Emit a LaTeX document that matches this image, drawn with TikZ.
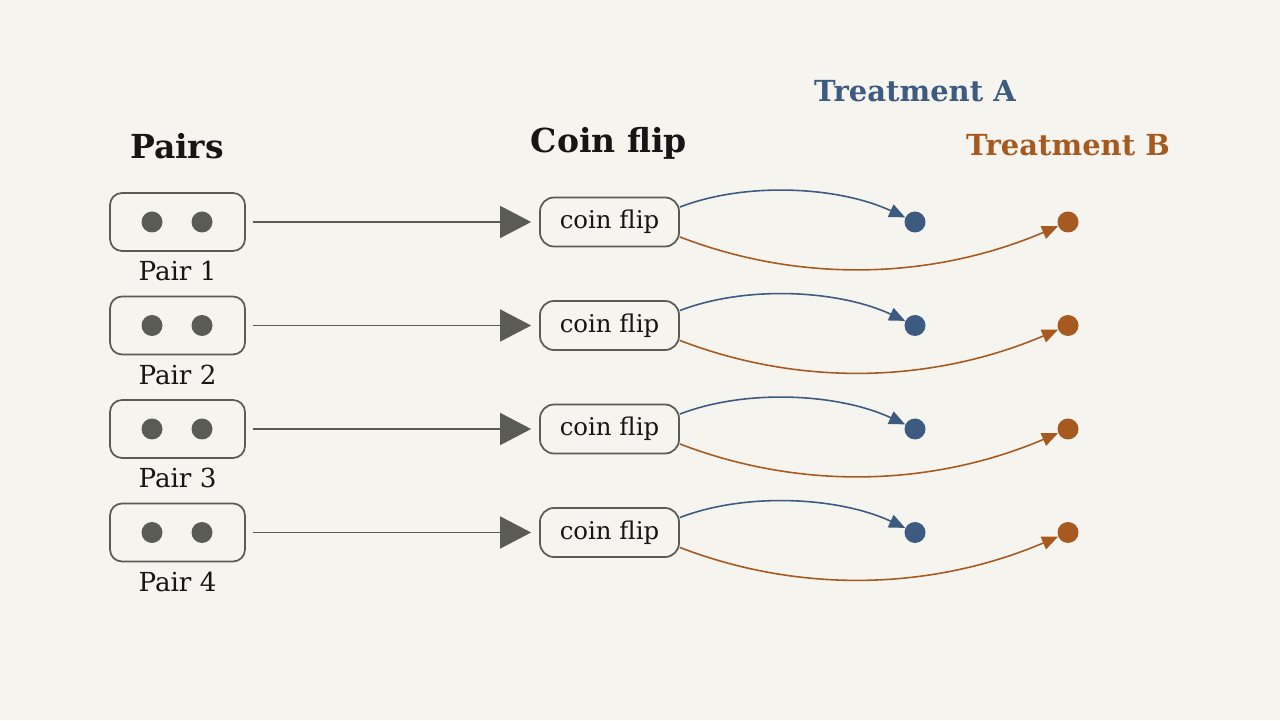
\documentclass[tikz,border=0pt]{standalone}
\usepackage{fontspec}
\setmainfont{DejaVu Serif}
\usetikzlibrary{arrows.meta}

\definecolor{paper}{HTML}{F5F4EE}
\definecolor{ink}{HTML}{161616}
\definecolor{slate}{HTML}{5B5B55}
\definecolor{treatA}{HTML}{3D5A80}
\definecolor{treatB}{HTML}{A65A20}

\tikzset{
  pairbox/.style={draw=slate, line width=1pt, rounded corners=0.24cm, minimum width=2.7cm, minimum height=1.16cm},
  flipbox/.style={draw=slate, line width=1pt, fill=paper, rounded corners=0.28cm, minimum width=2.78cm, minimum height=0.98cm, font=\fontsize{13.9}{16}\selectfont, text=ink},
  unit/.style={circle, fill=slate, inner sep=0pt, minimum size=0.42cm},
  dotA/.style={circle, fill=treatA, inner sep=0pt, minimum size=0.42cm},
  dotB/.style={circle, fill=treatB, inner sep=0pt, minimum size=0.42cm},
  pairlabel/.style={font=\fontsize{14.9}{17}\selectfont, text=ink},
  heading/.style={font=\bfseries\fontsize{18.8}{22}\selectfont, text=ink},
  armhead/.style={font=\bfseries\fontsize{16.5}{20}\selectfont},
  feed/.style={draw=slate, line width=0.9pt, -{Triangle[length=0.62cm, width=0.64cm]}, shorten <=0.14cm, shorten >=0.16cm},
  toA/.style={draw=treatA, line width=0.9pt, looseness=0.82, -{Triangle[length=0.32cm, width=0.27cm]}},
  toB/.style={draw=treatB, line width=0.9pt, looseness=0.9, -{Triangle[length=0.32cm, width=0.27cm]}}
}

\begin{document}
\begin{tikzpicture}
  \fill[paper] (0,0) rectangle (25.6,14.4);

  % Headings
  \node[heading] (hpairs) at (3.54, 11.48) {Pairs};
  \node[heading] (hflip) at (12.18, 11.54) {Coin flip};
  \node[armhead, text=treatA] (hA) at (18.3, 12.58) {Treatment A};
  \node[armhead, text=treatB] (hB) at (21.36, 11.5) {Treatment B};

  % Pairs
  \node[pairbox] (p1) at (3.55, 9.96) {};
  \node[pairbox] (p2) at (3.55, 7.89) {};
  \node[pairbox] (p3) at (3.55, 5.82) {};
  \node[pairbox] (p4) at (3.55, 3.75) {};
  \node[unit] (u1a) at (3.04, 9.96) {};
  \node[unit] (u1b) at (4.04, 9.96) {};
  \node[unit] (u2a) at (3.04, 7.89) {};
  \node[unit] (u2b) at (4.04, 7.89) {};
  \node[unit] (u3a) at (3.04, 5.82) {};
  \node[unit] (u3b) at (4.04, 5.82) {};
  \node[unit] (u4a) at (3.04, 3.75) {};
  \node[unit] (u4b) at (4.04, 3.75) {};
  \node[pairlabel] (l1) at (3.55, 8.98) {Pair 1};
  \node[pairlabel] (l2) at (3.55, 6.91) {Pair 2};
  \node[pairlabel] (l3) at (3.55, 4.84) {Pair 3};
  \node[pairlabel] (l4) at (3.55, 2.77) {Pair 4};

  % Coin flips
  \node[flipbox] (c1) at (12.19, 9.96) {coin flip};
  \node[flipbox] (c2) at (12.19, 7.89) {coin flip};
  \node[flipbox] (c3) at (12.19, 5.82) {coin flip};
  \node[flipbox] (c4) at (12.19, 3.75) {coin flip};

  % Treatments
  \node[dotA] (a1) at (18.3, 9.96) {};
  \node[dotA] (a2) at (18.3, 7.89) {};
  \node[dotA] (a3) at (18.3, 5.82) {};
  \node[dotA] (a4) at (18.3, 3.75) {};
  \node[dotB] (b1) at (21.36, 9.96) {};
  \node[dotB] (b2) at (21.36, 7.89) {};
  \node[dotB] (b3) at (21.36, 5.82) {};
  \node[dotB] (b4) at (21.36, 3.75) {};

  % Arrows
  \draw[feed] (p1) -- (c1);
  \draw[feed] (p2) -- (c2);
  \draw[feed] (p3) -- (c3);
  \draw[feed] (p4) -- (c4);

  \draw[toA] (c1.12) to[out=21, in=155] (a1);
  \draw[toA] (c2.12) to[out=21, in=155] (a2);
  \draw[toA] (c3.12) to[out=21, in=155] (a3);
  \draw[toA] (c4.12) to[out=21, in=155] (a4);

  \draw[toB] (c1.-12) to[out=-21, in=203] (b1);
  \draw[toB] (c2.-12) to[out=-21, in=203] (b2);
  \draw[toB] (c3.-12) to[out=-21, in=203] (b3);
  \draw[toB] (c4.-12) to[out=-21, in=203] (b4);
\end{tikzpicture}
\end{document}
